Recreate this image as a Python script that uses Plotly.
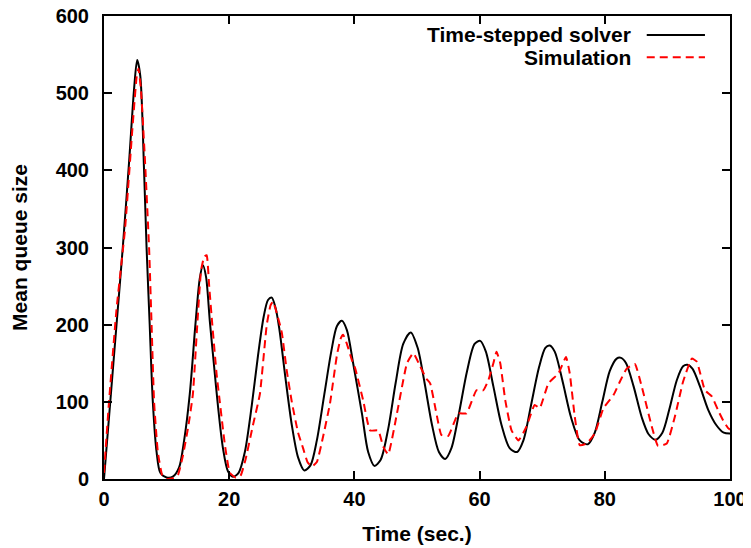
import plotly.graph_objects as go

# time-stepped solver
solver_t = [0, 1, 2, 3, 4, 4.8, 5.3, 5.8, 6.4, 6.8, 7.3, 7.8, 8.4, 9.0, 10.0, 11.0, 12.0, 12.8,
            13.7, 14.6, 15.3, 15.8, 16.3, 16.9, 17.6, 18.2, 19.0, 19.8, 20.6, 21.5, 22.5, 23.6,
            24.6, 25.5, 26.2, 26.8, 27.4, 28.0, 29.0, 30.0, 31.0, 32.0, 33.0, 34.0, 35.2, 36.3,
            37.2, 38.0, 38.8, 39.8, 41.2, 42.2, 43.2, 44.2, 45.4, 46.6, 47.8, 49.0, 50.1, 51.2,
            52.4, 53.5, 54.5, 55.5, 56.7, 58.0, 59.2, 60.1, 61.0, 62.2, 63.5, 64.8, 66.0, 67.0,
            68.2, 69.5, 70.5, 71.2, 72.0, 73.3, 74.6, 76.0, 77.3, 78.4, 79.6, 80.8, 81.9, 82.6,
            83.4, 84.6, 85.9, 87.0, 88.1, 89.2, 90.3, 91.5, 92.5, 93.2, 94.0, 95.2, 96.5, 97.8,
            99.0, 100]
solver_q = [0, 100, 200, 300, 410, 505, 543, 522, 400, 300, 200, 100, 35, 8, 2, 3, 15, 50,
            110, 200, 260, 277, 262, 205, 145, 95, 40, 10, 3, 8, 35, 95,
            160, 210, 232, 235, 222, 195, 130, 70, 28, 11, 18, 50, 110, 165,
            198, 205, 193, 150, 85, 35, 17, 25, 65, 125, 175, 190, 170, 125,
            70, 35, 26, 40, 85, 140, 175, 179, 165, 120, 70, 40, 35, 50,
            95, 145, 170, 173, 165, 125, 80, 50, 45, 60, 100, 140, 156, 157,
            150, 120, 80, 58, 51, 60, 90, 128, 146, 148, 143, 120, 90, 70,
            60, 59]

# simulation
sim_t = [0, 0.8, 2, 3.35, 4.5, 5.2, 5.5, 5.9, 6.5, 7.2, 7.6, 8.0, 8.6, 9.3, 10.0, 11.0, 11.8,
         12.6, 13.5, 14.2, 14.9, 15.5, 16.0, 16.4, 16.8, 17.3, 18.0, 18.5, 19.3, 20.1, 21.0,
         21.8, 22.6, 23.8, 24.9, 26.0, 26.6, 27.0, 27.6, 28.4, 29.2, 30.0, 31.0, 31.8, 32.5,
         33.2, 34.0, 35.0, 36.1, 37.2, 37.8, 38.2, 38.8, 39.6, 40.1, 41.4, 42.5, 43.8, 44.6,
         45.4, 46.8, 48.4, 49.4, 50.5, 51.5, 52.1, 53.1, 53.9, 55.0, 56.6, 57.9, 59.5, 60.6,
         61.4, 62.2, 62.7, 63.3, 64.1, 65.1, 66.2, 67.5, 68.8, 69.6, 71.0, 72.6, 73.8, 74.4,
         75.2, 76.0, 77.1, 78.4, 79.8, 81.4, 82.4, 83.5, 84.8, 85.9, 87.5, 88.5, 89.9, 91.2,
         92.5, 93.9, 94.7, 96.0, 97.1, 98.1, 98.9, 99.7, 100]
sim_q = [8, 100, 220, 323, 450, 520, 532, 505, 420, 300, 200, 100, 35, 5, 0, 1, 5,
         30, 70, 110, 200, 270, 288, 290, 250, 200, 135, 100, 45, 8, 2,
         4, 25, 70, 110, 200, 225, 230, 215, 190, 140, 100, 60, 40, 22,
         16, 22, 55, 98, 160, 182, 187, 175, 154, 144, 102, 63, 63, 42,
         32, 85, 150, 163, 146, 130, 124, 85, 57, 56, 85, 85, 115, 115,
         128, 150, 165, 150, 102, 63, 50, 68, 96, 92, 124, 137, 158, 137,
         81, 44, 46, 59, 92, 109, 126, 143, 149, 120, 68, 43, 46, 81,
         126, 156, 152, 115, 107, 89, 76, 66, 64]

names = ["Time-stepped solver", "Simulation"]

fig = go.Figure()
fig.add_trace(go.Scatter(x=solver_t, y=solver_q, mode="lines", name=names[0],
                         line=dict(color="black", width=2, shape="spline", smoothing=0.8)))
fig.add_trace(go.Scatter(x=sim_t, y=sim_q, mode="lines", name=names[1],
                         line=dict(color="#ff0000", width=2, dash="8px,5px",
                                   shape="spline", smoothing=0.4)))

# gnuplot style key: text right-aligned, sample line after it
key_y = [0.959, 0.911]
key_style = [dict(color="black", width=2), dict(color="#ff0000", width=2, dash="8px,5px")]
for name, ky, st in zip(names, key_y, key_style):
    fig.add_annotation(x=0.845, y=ky, xref="paper", yref="paper", text=name, showarrow=False,
                       xanchor="right", yanchor="middle",
                       font=dict(size=21, color="black", weight="bold"))
    fig.add_shape(type="line", xref="paper", yref="paper", x0=0.867, x1=0.960, y0=ky, y1=ky,
                  line=st)

axis_style = dict(showgrid=False, zeroline=False, showline=True, linecolor="black", linewidth=2,
                  mirror="ticks", ticks="inside", ticklen=8, tickwidth=1.5, tickcolor="black",
                  automargin=False, ticklabeloverflow="allow",
                  tickfont=dict(size=20, color="black", weight="bold"))

fig.update_xaxes(range=[0, 100], dtick=20, ticklabelstandoff=1,
                 title=dict(text="Time (sec.)", standoff=17,
                            font=dict(size=21, color="black", weight="bold")), **axis_style)
fig.update_yaxes(range=[0, 600], dtick=100, ticklabelstandoff=9,
                 title=dict(text="Mean queue size", standoff=22,
                            font=dict(size=21, color="black", weight="bold")), **axis_style)

# page body has an 8px margin, so the figure is sized to end at the window edge
fig.update_layout(width=743, height=540, showlegend=False,
                  paper_bgcolor="white", plot_bgcolor="white",
                  font=dict(family="Liberation Sans, Arial, sans-serif"),
                  margin=dict(l=96, r=21, t=8, b=69))

fig.write_html("out.html")
